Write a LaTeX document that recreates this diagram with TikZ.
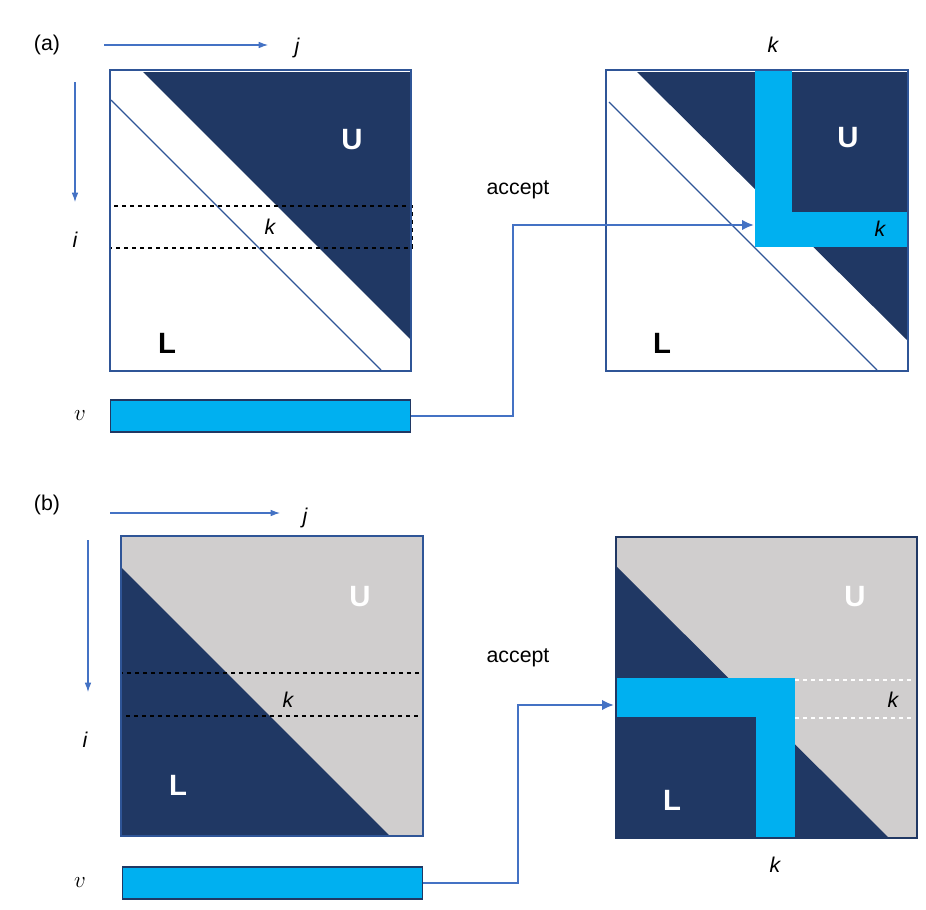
\documentclass[tikz,border=0pt]{standalone}
\usepackage{fontspec}
\setmainfont{Liberation Sans}
\definecolor{navy}{HTML}{203864}
\definecolor{frameblue}{HTML}{2F5597}
\definecolor{arrowblue}{HTML}{4472C4}
\definecolor{cyanbar}{HTML}{00B0F0}
\definecolor{lightgray}{HTML}{D0CECE}
\tikzset{
  frame/.style={draw=frameblue, line width=2.2pt},
  thinline/.style={draw=frameblue, line width=0.8pt},
  rowbox/.style={draw=black, dashed, line width=1.3pt},
  flow/.style={draw=arrowblue, line width=2pt, -{Latex[length=9pt,width=8pt]}},
  axis/.style={draw=arrowblue, line width=0.8pt, -{Latex[length=7pt,width=5pt]}},
  vecbar/.style={draw=navy, fill=cyanbar, line width=0.8pt, minimum width=225pt, minimum height=24pt, inner sep=0pt},
  lbl/.style={font=\fontsize{16}{18}\selectfont},
  big/.style={font=\fontsize{22}{24}\selectfont\bfseries}
}
\usetikzlibrary{arrows.meta}
\begin{document}
\begin{tikzpicture}[x=0.75pt,y=-0.75pt]
  \useasboundingbox (0,0) rectangle (926,910);

  % (a) left matrix
  \fill[navy] (143,72) -- (410,72) -- (410,339) -- cycle;
  \draw[thinline] (111,100) -- (381,370);
  \draw[rowbox] (110,206) rectangle (412,248);
  \draw[frame] (110,70) rectangle (411,371);
  \node[big, white] (aU) at (352,140) {U};
  \node[big] (aL) at (167,343) {L};
  \node[lbl, font=\fontsize{16}{18}\selectfont\itshape] (ak) at (270,227) {k};

  % (a) axes
  \node[lbl] (alab) at (47,45) {(a)};
  \draw[axis] (104,45) -- (268,45);
  \node[lbl, font=\fontsize{16}{18}\selectfont\itshape] (aj) at (297,48) {j};
  \draw[axis] (75,82) -- (75,202);
  \node[lbl, font=\fontsize{16}{18}\selectfont\itshape] (ai) at (75,240) {i};

  % (a) vector
  \node[lbl] (av) at (80,416) {$v$};
  \node[vecbar, anchor=west] (avec) at (110,416) {};

  % (a) right matrix
  \fill[navy] (637,72) -- (907,72) -- (907,340) -- cycle;
  \draw[thinline] (609,102) -- (877,370);
  \fill[cyanbar] (755,71) rectangle (792,247);
  \fill[cyanbar] (755,212) rectangle (908,247);
  \draw[frame] (606,70) rectangle (908,371);
  \node[big, white] (aU2) at (848,138) {U};
  \node[big] (aL2) at (662,343) {L};
  \node[lbl, font=\fontsize{16}{18}\selectfont\itshape] (ak2) at (880,229) {k};
  \node[lbl, font=\fontsize{16}{18}\selectfont\itshape] (ak3) at (773,45) {k};
  \coordinate (atgt) at (754,225);

  \node[lbl] (aacc) at (518,190) {accept};
  \draw[flow] (avec.east) -| (513,225) -- (atgt);

  % (b) left matrix
  \fill[lightgray] (121,536) rectangle (423,836);
  \fill[navy] (121,567) -- (121,836) -- (390,836) -- cycle;
  \draw[rowbox] (121,673) rectangle (423,716);
  \draw[frame] (121,536) rectangle (423,836);
  \node[big, white] (bU) at (360,597) {U};
  \node[big, white] (bL) at (178,785) {L};
  \node[lbl, font=\fontsize{16}{18}\selectfont\itshape] (bk) at (288,700) {k};

  % (b) axes
  \node[lbl] (blab) at (47,505) {(b)};
  \draw[axis] (110,513) -- (280,513);
  \node[lbl, font=\fontsize{16}{18}\selectfont\itshape] (bj) at (305,518) {j};
  \draw[axis] (88,540) -- (88,692);
  \node[lbl, font=\fontsize{16}{18}\selectfont\itshape] (bi) at (85,740) {i};

  % (b) vector
  \node[lbl] (bv) at (80,883) {$v$};
  \node[vecbar, anchor=west] (bvec) at (122,883) {};

  % (b) right matrix
  \fill[lightgray] (617,538) rectangle (916,837);
  \fill[navy] (617,567) -- (617,837) -- (888,837) -- cycle;
  \fill[navy] (617,717) rectangle (756,837);
  \fill[cyanbar] (617,678) rectangle (795,717);
  \fill[cyanbar] (756,678) rectangle (795,838);
  \draw[white, dashed, line width=1pt] (795,680) -- (913,680);
  \draw[white, dashed, line width=1pt] (795,718) -- (913,718);
  \draw[draw=navy, line width=2.2pt] (616,537) rectangle (917,838);
  \node[big, white] (bU2) at (855,597) {U};
  \node[big, white] (bL2) at (672,800) {L};
  \node[lbl, font=\fontsize{16}{18}\selectfont\itshape] (bk2) at (893,700) {k};
  \node[lbl, font=\fontsize{16}{18}\selectfont\itshape] (bk3) at (775,865) {k};
  \coordinate (btgt) at (614,705);

  \node[lbl] (bacc) at (518,658) {accept};
  \draw[flow] (bvec.east) -| (518,705) -- (btgt);
\end{tikzpicture}
\end{document}
